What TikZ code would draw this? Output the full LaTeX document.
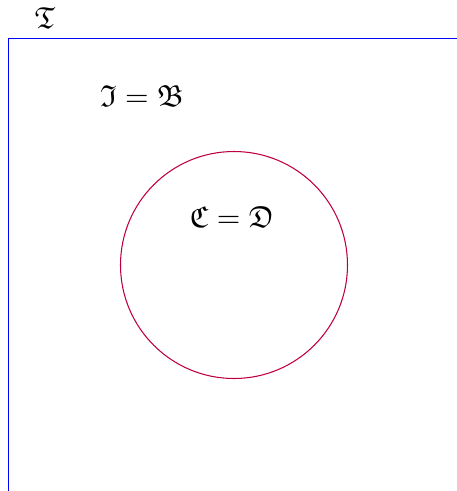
\documentclass[tikz,border=0pt]{standalone}
\usepackage{amssymb}
\begin{document}
\begin{tikzpicture}[x=0.33pt,y=-0.33pt,
  frame/.style={blue,line width=0.25pt},
  ring/.style={purple,line width=0.35pt},
  lbl/.style={inner sep=0pt,anchor=center}]
\useasboundingbox (0,0) rectangle (457,491);
\coordinate (tl) at (8,38);
\coordinate (bl) at (8,491);
\coordinate (tr) at (457,38);
\draw[frame] (bl) -- (tl) -- (tr);
\node[lbl] (T) at (45,18) {$\mathfrak{T}$};
\node[lbl] (IB) at (142,96) {$\mathfrak{I}=\mathfrak{B}$};
\node[draw=purple,ring,circle,minimum size=227*0.33pt,inner sep=0pt] (circ) at (234,265) {};
\node[lbl] (CD) at (232,217) {$\mathfrak{C}=\mathfrak{D}$};
\end{tikzpicture}
\end{document}
